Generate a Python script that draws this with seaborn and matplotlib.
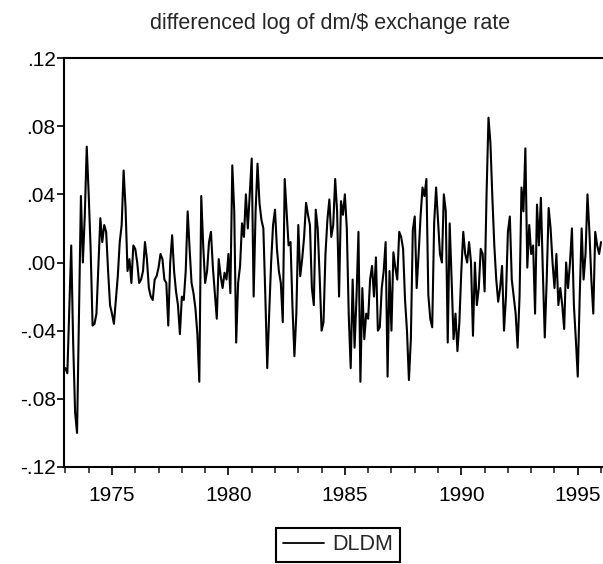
import numpy as np
import pandas as pd
import matplotlib
matplotlib.use('Agg')
import matplotlib.pyplot as plt
import seaborn as sns
from matplotlib.ticker import FuncFormatter, MultipleLocator

# differenced log of DM/$ rate, monthly, 1973:01 - 1996:01 (values in thousandths)
dldm_1973_76 = [-62, -65, -28, 10, -47, -88, -100, -30, 39, 0, 28, 68, 40, 8, -37, -36,
                -30, -2, 26, 12, 22, 18, -5, -25, -30, -36, -22, -8, 12, 22, 54, 32,
                -5, 2, -12, 10, 8, 0, -12, -10, -5, 12, 2, -15, -20, -22, -10]
dldm_1976_80 = [-8, -3, 5, 2, -10, -12, -37, 0, 16, -5, -17, -25, -42, -20, -22, -5,
                30, 8, -12, -18, -27, -42, -70, 39, 10, -12, -5, 12, 18, -3, -18, -33,
                2, -8, -15, -6, -10, 5, -18, 57, 30, -47, -12, -2, 23, 15]
dldm_1980_84 = [40, 20, 40, 61, -20, 30, 58, 35, 25, 20, -19, -62, -30, 0, 22, 31,
                8, -5, -12, -35, 49, 30, 10, 12, -26, -55, -30, 22, -8, 2, 15, 35,
                28, 22, -15, -25, 31, 20, -8, -40, -35, 5, 25, 37, 15, 22]
dldm_1984_88 = [49, 30, -20, 36, 28, 40, 20, -31, -62, -10, -50, -20, 18, -70, -15, -45,
                -30, -33, -10, -2, -20, 3, -40, -38, -15, -5, 12, -67, -5, -40, 6, -3,
                -10, 18, 15, 8, -22, -40, -69, -45, 19, 27, -15, 5, 27, 44]
dldm_1988_92 = [39, 49, -19, -33, -38, 23, 44, 25, 5, 0, 40, 30, -47, 23, -10, -45,
                -30, -52, -35, -5, 18, 5, 0, 12, 0, -43, 0, -25, -15, 8, 5, -17,
                40, 85, 70, 38, 10, -10, -23, -15, -2, -40, -20, 18, 27, -10, -20]
dldm_1992_96 = [-30, -50, -20, 44, 30, 67, -3, 22, 5, 10, -30, 34, 10, 38, -5, -44,
                -10, 32, 20, 0, -15, 5, -25, -15, -25, -39, 0, -15, 0, 20, -25, -45,
                -67, -20, 20, -10, 5, 40, 18, -10, -30, 18, 10, 5, 12]

dldm = np.array(dldm_1973_76 + dldm_1976_80 + dldm_1980_84 +
                dldm_1984_88 + dldm_1988_92 + dldm_1992_96) / 1000.0
dates = 1973 + np.arange(len(dldm)) / 12.0
df = pd.DataFrame({'date': dates, 'DLDM': dldm})

sns.set_style('ticks')
plt.rcParams['font.family'] = ['Liberation Sans', 'DejaVu Sans']

fig = plt.figure(figsize=(6.03, 5.64), dpi=100)
ax = fig.add_axes([64 / 603, 97 / 564, 548 / 603, 409 / 564])

sns.lineplot(data=df, x='date', y='DLDM', color='black', linewidth=1.5, ax=ax, label='DLDM')

ax.set_xlim(1972.94, 1996.47)
ax.set_ylim(-0.12, 0.12)
ax.set_yticks(np.arange(-0.12, 0.121, 0.04))
ax.yaxis.set_major_formatter(FuncFormatter(lambda v, p: f"{v:.2f}".replace("0.", ".", 1)))
ax.xaxis.set_major_locator(MultipleLocator(5))
ax.xaxis.set_minor_locator(MultipleLocator(1))
ax.xaxis.set_major_formatter(FuncFormatter(lambda v, p: f"{int(round(v))}"))
ax.set_xlabel('')
ax.set_ylabel('')

for s in ax.spines.values():
    s.set_visible(True)
    s.set_linewidth(1.5)
    s.set_color('black')
ax.tick_params(axis='both', which='major', direction='out', width=1.2,
               labelsize=15, colors='black')
ax.tick_params(axis='x', which='major', length=6, pad=8)
ax.tick_params(axis='y', which='major', length=5, pad=1)
ax.tick_params(axis='x', which='minor', direction='out', length=4, width=1.2)

fig.text(330 / 603, 1 - 24 / 564, 'differenced log of dm/$ exchange rate',
         ha='center', va='center', fontsize=15.5)

leg = ax.legend(loc='center', bbox_to_anchor=(338 / 603, 1 - 545 / 564),
                bbox_transform=fig.transFigure, frameon=True, fancybox=False,
                edgecolor='black', framealpha=1, fontsize=15.5, handlelength=1.9,
                handletextpad=0.4, borderpad=0.3)
leg.get_frame().set_linewidth(1.5)
leg.get_lines()[0].set_linewidth(1.3)

fig.savefig('out.png', dpi=100)
